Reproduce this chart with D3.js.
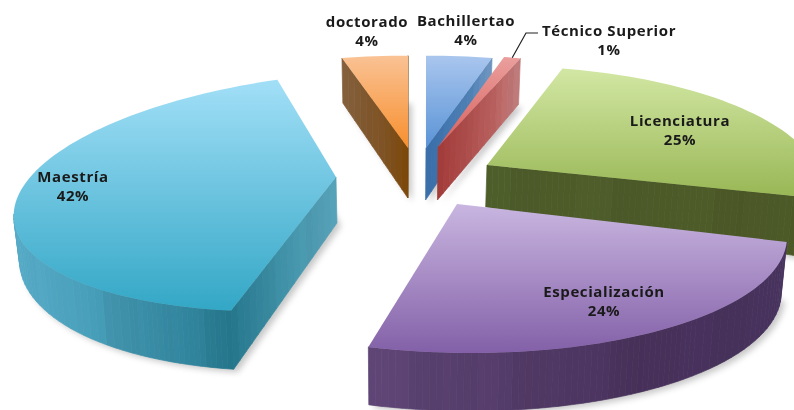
<!DOCTYPE html>
<html><head><meta charset="utf-8">
<script src="https://cdn.jsdelivr.net/npm/d3@7"></script>
<style>html,body{margin:0;padding:0;background:#fff;overflow:hidden}svg{display:block;filter:blur(.6px)}text{font-family:"Open Sans",sans-serif;font-weight:700;font-size:15px;letter-spacing:.6px;fill:#1a1a1a;text-anchor:middle}</style>
</head><body><svg id="c" width="794" height="410"></svg>
<script>
const categories=["Bachillertao","Técnico Superior","Licenciatura","Especialización","Maestría","doctorado"];
const percents=[4,1,25,24,42,4];
const topLight=["#a9c6ee","#ea9f9d","#d2e7a4","#c9b6e0","#a2dff7","#fac294"];
const topDark=["#5a93d6","#d9605c","#98b654","#8360a8","#33a7c6","#f78f2e"];
const sideA=["#3a70ac","#a43c3a","#4d5c2a","#5e4575","#58aecb","#84603e"];
const sideM=["#4f80b4","#b35c5a","#4c5928","#47315a","#26788e","#7c5020"];
const sideB=["#6f93bd","#c48080","#4b5726","#46325c","#5aa6bc","#7a4708"];

// projection of each exploded wedge: apex, radii, perspective, shears, wall heights
const proj=[
 {cx:426,cy:148,rx:326,ry:114,p:.235,q:0,s:0,dA:52,d:46,e:0},
 {cx:438,cy:147,rx:326,ry:114,p:.235,q:0,s:0,dA:53,d:46,e:0},
 {cx:487,cy:165,rx:325,ry:122,p:.235,q:.07,s:-.02,dA:42,d:60,e:0},
 {cx:457,cy:204,rx:318,ry:114,p:.235,q:.096,s:0,dA:50,d:55,e:.2},
 {cx:336,cy:177,rx:318,ry:117,p:.12,q:-.12,s:-.06,dA:46,d:42,e:2.7},
 {cx:408,cy:148,rx:326,ry:114,p:.235,q:0,s:0,dA:50,d:45,e:0}
];
const vanishX=400,converge=.015;
const labelAt=[[466,26],[609,36],[680,126],[604,297],[73,182],[367,27]];

const svg=d3.select("#c");
const defs=svg.append("defs");
defs.append("filter").attr("id","sh").attr("x","-20%").attr("y","-20%").attr("width","140%").attr("height","140%")
  .append("feGaussianBlur").attr("stdDeviation",3);
const arcs=d3.pie().sort(null).startAngle(0).endAngle(2*Math.PI)(percents);
const line=d3.line();

function pt(i,a){
  const g=proj[i],w=1+g.p*Math.cos(a);
  const x=g.rx*Math.sin(a)/w,y=-g.ry*Math.cos(a)/w;
  return [g.cx+x+g.q*y,g.cy+y+g.s*x,g.d/Math.pow(w,g.e)];
}
function outline(i){
  const a=arcs[i],n=Math.max(4,Math.round((a.endAngle-a.startAngle)*30));
  const pts=[[proj[i].cx,proj[i].cy,proj[i].dA]];
  d3.range(n+1).forEach(k=>{pts.push(pt(i,a.startAngle+(a.endAngle-a.startAngle)*k/n));});
  return pts;
}
const low=p=>[p[0]+(vanishX-p[0])*converge,p[1]+p[2]];
const drawOrder=[5,0,1,2,4,3];
categories.forEach((c,i)=>{
  const lg=defs.append("linearGradient").attr("id","t"+i).attr("x1",0).attr("y1",0).attr("x2",0).attr("y2",1);
  lg.append("stop").attr("offset",0).attr("stop-color",topLight[i]);
  lg.append("stop").attr("offset",1).attr("stop-color",topDark[i]);
});
// shadows
drawOrder.forEach(i=>{
  const o=outline(i).map(low).map(p=>[p[0]+4,p[1]+3]);
  svg.append("path").attr("d",line(o)+"Z").attr("fill","#999").attr("opacity",.55).attr("filter","url(#sh)");
});
drawOrder.forEach(i=>{
  const o=outline(i),G=svg.append("g");
  const [x0,x1]=d3.extent(o,p=>p[0]);
  const col=d3.scaleLinear().domain([x0,x0+(x1-x0)*.67,x1]).range([sideA[i],sideM[i],sideB[i]]).interpolate(d3.interpolateRgb);
  o.forEach((p,k)=>{
    const nx=o[(k+1)%o.length];
    if(nx[0]>=p[0]) return;
    const steps=Math.max(1,Math.round((p[0]-nx[0])/6));
    d3.range(steps).forEach(j=>{
      const lerp=f=>[p[0]+(nx[0]-p[0])*f,p[1]+(nx[1]-p[1])*f,p[2]+(nx[2]-p[2])*f];
      const A=lerp(j/steps),B=lerp((j+1)/steps);
      const mx=(A[0]+B[0])/2;
      const band=d3.color(col(mx)).brighter((Math.floor(mx/34)%3-1)*.05).formatRgb();
      G.append("path").attr("d",line([[A[0],A[1]],[B[0],B[1]],low(B),low(A)])+"Z").attr("fill",band).attr("stroke",band).attr("stroke-width",.7);
    });
  });
  G.append("path").attr("d",line(o.map(p=>[p[0],p[1]]))+"Z").attr("fill",`url(#t${i})`);
});
// leader line for the small slice
const tip=pt(1,(arcs[1].startAngle+arcs[1].endAngle)/2);
svg.append("path").attr("d",line([[tip[0],tip[1]],[526,33],[538,33]])).attr("fill","none").attr("stroke","#222").attr("stroke-width",1.2);
categories.forEach((c,i)=>{
  const t=svg.append("text").attr("x",labelAt[i][0]).attr("y",labelAt[i][1]);
  t.append("tspan").attr("x",labelAt[i][0]).text(c);
  t.append("tspan").attr("x",labelAt[i][0]).attr("dy",19).text(percents[i]+"%");
});
</script></body></html>
